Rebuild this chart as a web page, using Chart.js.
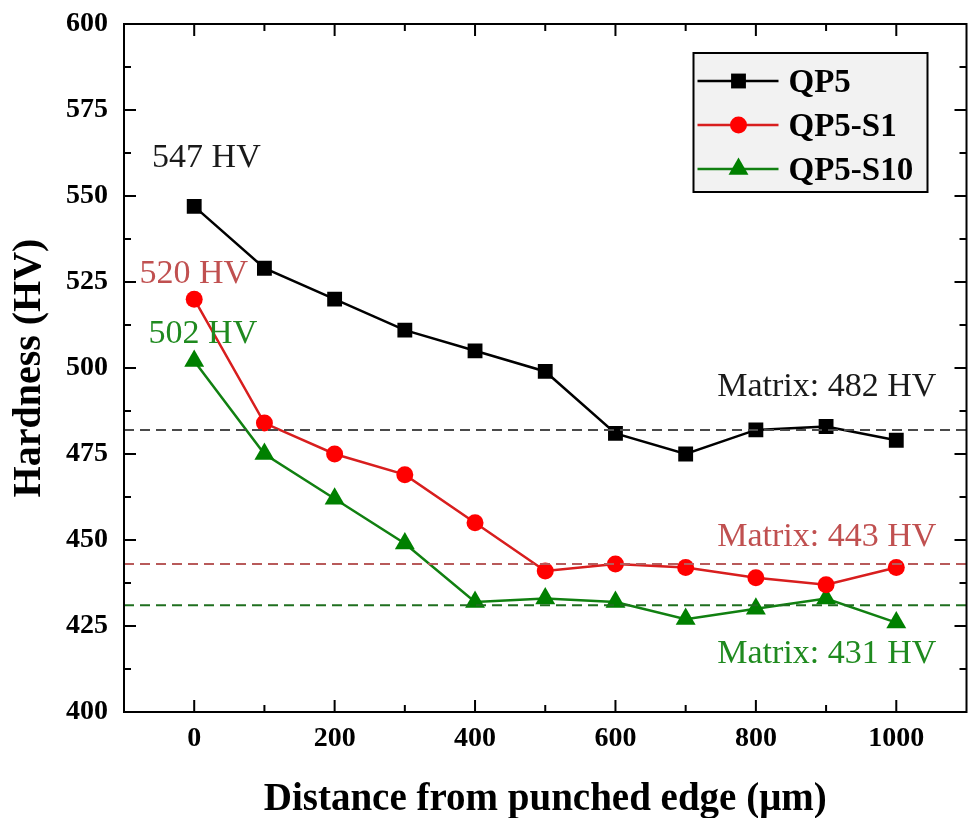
<!DOCTYPE html>
<html lang="en">
<head>
    <meta charset="UTF-8">
    <title>Hardness vs distance from punched edge</title>
    <script src="https://cdn.jsdelivr.net/npm/chart.js"></script>
    <style>
        html, body { margin: 0; padding: 0; background: #fff; }
        canvas { display: block; }
    </style>
</head>
<body>
    <canvas id="hardnessChart" width="978" height="818"></canvas>

    <script>
        // Data
        const distances = [0, 100, 200, 300, 400, 500, 600, 700, 800, 900, 1000];
        const qp5 = [547, 529, 520, 511, 505, 499, 481, 475, 482, 483, 479];
        const qp5S1 = [520, 484, 475, 469, 455, 441, 443, 442, 439, 437, 442];
        const qp5S10 = [502, 475, 462, 449, 432, 433, 432, 427, 430, 433, 426];
        const matrixValues = [482, 443, 431];
        const seriesNames = ['QP5', 'QP5-S1', 'QP5-S10'];
        const xTickValues = [0, 200, 400, 600, 800, 1000];
        const yTickValues = [400, 425, 450, 475, 500, 525, 550, 575, 600];

        const FONT = "'Liberation Serif', 'Times New Roman', serif";

        const lineColors = ['#000000', '#d81e1e', '#118011'];
        const markColors = ['#000000', '#ff0000', '#008000'];
        const markShapes = ['rect', 'circle', 'triangle'];
        const markSizes = [10.5, 8.5, 11.5];
        const dashColors = ['#4a4a4a', '#b85a5a', '#1f6f1f'];

        // text labels placed in data units
        const notes = [
            { text: '547 HV', x: -60, y: 558.3, align: 'left', color: '#1a1a1a' },
            { text: '520 HV', x: -78, y: 524.8, align: 'left', color: '#c05050' },
            { text: '502 HV', x: -65, y: 507.3, align: 'left', color: '#1f8a1f' },
            { text: 'Matrix: 482 HV', x: 1057, y: 491.8, align: 'right', color: '#1a1a1a' },
            { text: 'Matrix: 443 HV', x: 1057, y: 448.2, align: 'right', color: '#c05050' },
            { text: 'Matrix: 431 HV', x: 1057, y: 414.3, align: 'right', color: '#1f8a1f' }
        ];

        const toPoints = arr => arr.map((v, i) => ({ x: distances[i], y: v }));

        const datasets = [];
        matrixValues.forEach((m, i) => {
            datasets.push({
                label: 'matrix' + i,
                data: [{ x: -100, y: m }, { x: 1100, y: m }],
                borderColor: dashColors[i],
                borderWidth: 2,
                borderDash: [10, 6],
                pointRadius: 0,
                isGuide: true
            });
        });
        [qp5, qp5S1, qp5S10].forEach((arr, i) => {
            datasets.push({
                label: seriesNames[i],
                data: toPoints(arr),
                borderColor: lineColors[i],
                backgroundColor: markColors[i],
                borderWidth: 2.5,
                pointStyle: markShapes[i],
                pointRadius: markSizes[i],
                pointBorderWidth: 0,
                pointBackgroundColor: markColors[i],
                tension: 0
            });
        });

        // box frame with inward major/minor ticks on all four sides
        const frameTicks = {
            id: 'frameTicks',
            afterDatasetsDraw(chart) {
                const { ctx, chartArea: a, scales: { x, y } } = chart;
                ctx.save();
                ctx.strokeStyle = '#000';
                ctx.lineWidth = 2;
                ctx.beginPath();
                const xs = x.ticks.map(t => t.value);
                for (let i = 0; i < xs.length; i++) {
                    const major = x.getPixelForValue(xs[i]);
                    ctx.moveTo(major, a.bottom); ctx.lineTo(major, a.bottom - 12);
                    ctx.moveTo(major, a.top); ctx.lineTo(major, a.top + 12);
                    if (i < xs.length - 1) {
                        const minor = x.getPixelForValue((xs[i] + xs[i + 1]) / 2);
                        ctx.moveTo(minor, a.bottom); ctx.lineTo(minor, a.bottom - 7);
                        ctx.moveTo(minor, a.top); ctx.lineTo(minor, a.top + 7);
                    }
                }
                const ys = y.ticks.map(t => t.value);
                for (let i = 0; i < ys.length; i++) {
                    const major = y.getPixelForValue(ys[i]);
                    ctx.moveTo(a.left, major); ctx.lineTo(a.left + 12, major);
                    ctx.moveTo(a.right, major); ctx.lineTo(a.right - 12, major);
                    if (i < ys.length - 1) {
                        const minor = y.getPixelForValue((ys[i] + ys[i + 1]) / 2);
                        ctx.moveTo(a.left, minor); ctx.lineTo(a.left + 7, minor);
                        ctx.moveTo(a.right, minor); ctx.lineTo(a.right - 7, minor);
                    }
                }
                ctx.stroke();
                ctx.strokeRect(a.left, a.top, a.right - a.left, a.bottom - a.top);
                ctx.restore();
            }
        };

        // value notes and legend box
        const notesAndLegend = {
            id: 'notesAndLegend',
            afterDraw(chart) {
                const { ctx, chartArea: a, scales: { x, y } } = chart;
                ctx.save();
                ctx.font = '34px ' + FONT;
                ctx.textBaseline = 'alphabetic';
                notes.forEach(n => {
                    ctx.fillStyle = n.color;
                    ctx.textAlign = n.align;
                    ctx.fillText(n.text, x.getPixelForValue(n.x), y.getPixelForValue(n.y));
                });

                // legend
                const bx = a.right - 273, by = a.top + 29, bw = 234, bh = 139;
                ctx.fillStyle = '#f2f2f2';
                ctx.fillRect(bx, by, bw, bh);
                ctx.strokeStyle = '#000';
                ctx.lineWidth = 2;
                ctx.strokeRect(bx, by, bw, bh);
                ctx.font = 'bold 33px ' + FONT;
                ctx.textAlign = 'left';
                ctx.textBaseline = 'middle';
                chart.data.datasets.filter(d => !d.isGuide).forEach((d, i) => {
                    const cy = by + 28 + i * 44;
                    ctx.strokeStyle = d.borderColor;
                    ctx.lineWidth = 2.5;
                    ctx.beginPath();
                    ctx.moveTo(bx + 4, cy);
                    ctx.lineTo(bx + 85, cy);
                    ctx.stroke();
                    ctx.fillStyle = d.backgroundColor;
                    ctx.strokeStyle = d.backgroundColor;
                    Chart.helpers.drawPoint(ctx, {
                        pointStyle: d.pointStyle, radius: d.pointRadius, borderWidth: 0, rotation: 0
                    }, bx + 45, cy);
                    ctx.fillStyle = '#000';
                    ctx.fillText(d.label, bx + 95, cy + 2);
                });
                ctx.restore();
            }
        };

        const tickFont = { family: FONT, size: 28, weight: 'bold' };
        const xTitleFont = { family: FONT, size: 39, weight: 'bold', lineHeight: 1 };
        const yTitleFont = { family: FONT, size: 40, weight: 'bold', lineHeight: 1 };

        new Chart(document.getElementById('hardnessChart'), {
            type: 'line',
            data: { datasets },
            options: {
                responsive: false,
                devicePixelRatio: 1,
                animation: false,
                layout: { padding: { top: 24, right: -1, left: 0, bottom: 0 } },
                plugins: { legend: { display: false }, tooltip: { enabled: false } },
                scales: {
                    x: {
                        type: 'linear',
                        min: -100,
                        max: 1100,
                        afterBuildTicks: s => { s.ticks = xTickValues.map(v => ({ value: v })); },
                        afterFit: s => { s.height = 106; s.paddingLeft = 0; s.paddingRight = 0; },
                        grid: { display: false, drawTicks: false },
                        border: { display: false },
                        ticks: {
                            font: tickFont, color: '#000', padding: 10, maxRotation: 0, autoSkip: false,
                            callback: v => String(v)
                        },
                        title: {
                            display: true, text: 'Distance from punched edge (μm)', color: '#000',
                            font: xTitleFont, padding: { top: 0, bottom: -1 }
                        }
                    },
                    y: {
                        type: 'linear',
                        min: 400,
                        max: 600,
                        afterBuildTicks: s => { s.ticks = yTickValues.map(v => ({ value: v })); },
                        afterFit: s => { s.width = 124; s.paddingTop = 0; s.paddingBottom = 0; },
                        grid: { display: false, drawTicks: false },
                        border: { display: false },
                        ticks: { font: tickFont, color: '#000', padding: 16, autoSkip: false },
                        title: {
                            display: true, text: 'Hardness (HV)', color: '#000',
                            font: yTitleFont, padding: { top: 10, bottom: 0 }
                        }
                    }
                }
            },
            plugins: [frameTicks, notesAndLegend]
        });
    </script>
</body>
</html>
